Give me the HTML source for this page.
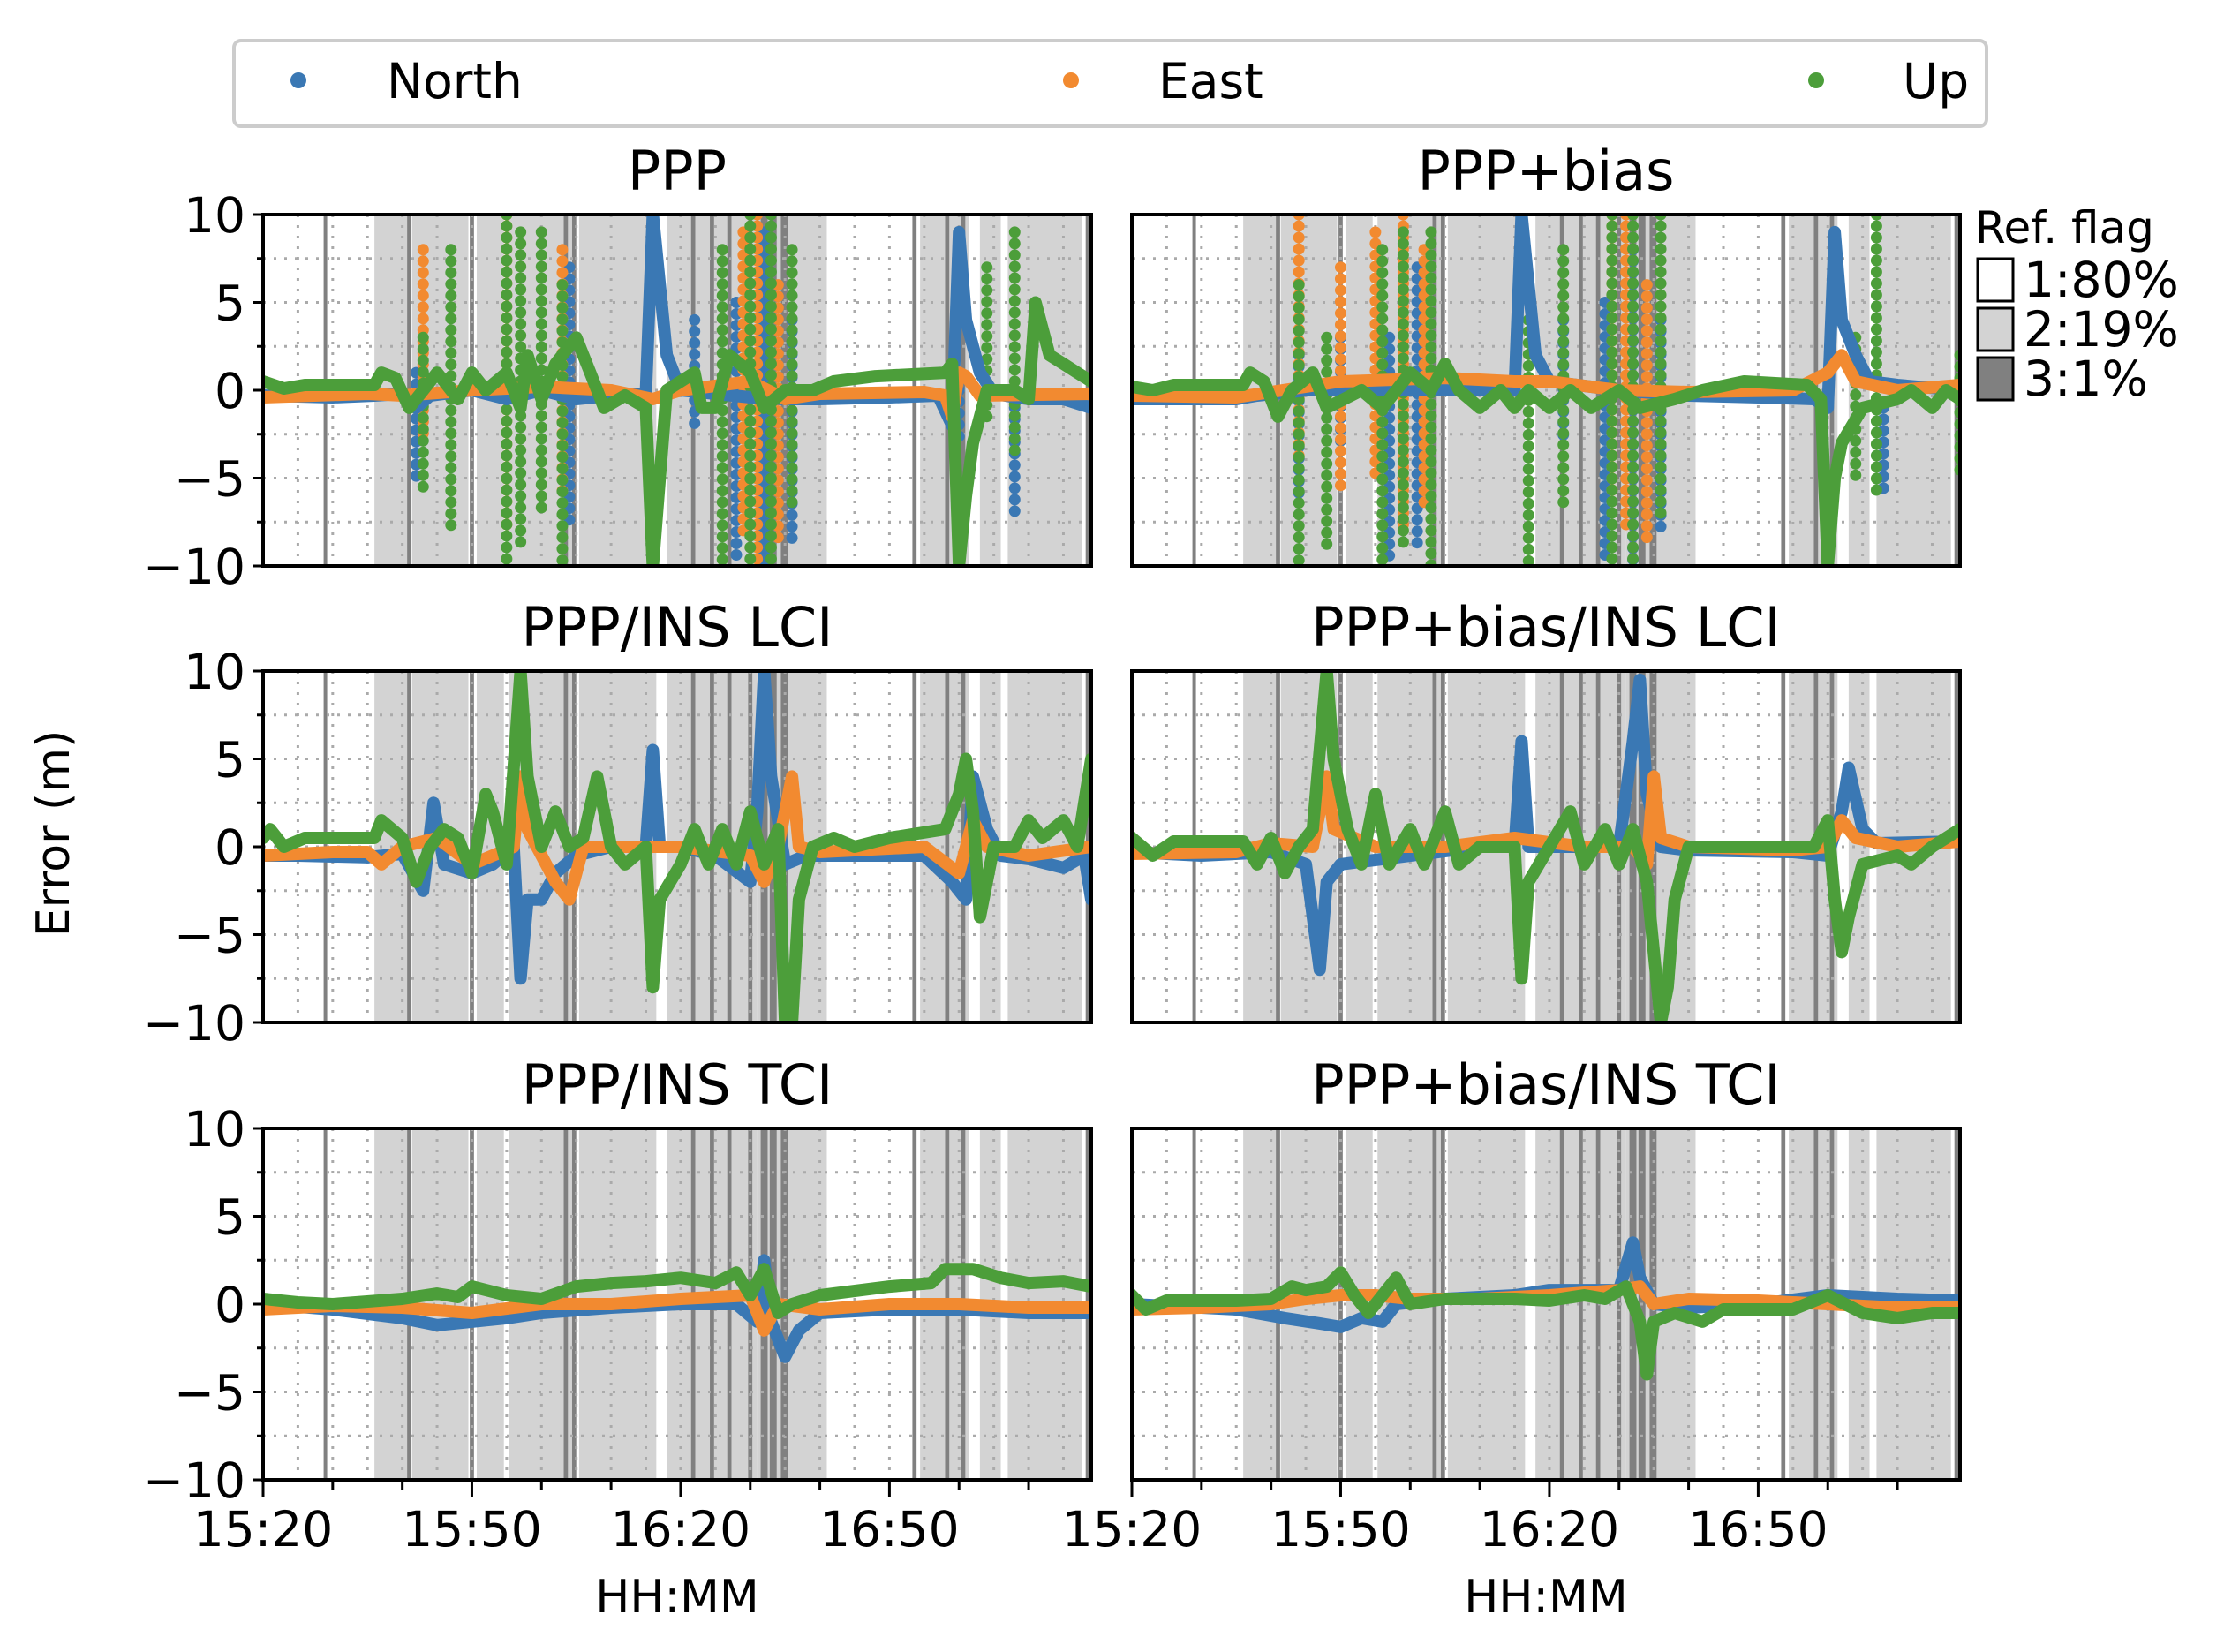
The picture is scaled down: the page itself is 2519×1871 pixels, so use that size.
<!DOCTYPE html>
<html><head><meta charset="utf-8"><style>
html,body{margin:0;padding:0;background:#fff;}
svg{display:block;font-family:"DejaVu Sans","Liberation Sans",sans-serif;}
</style></head><body>
<svg id="fig" width="2519" height="1871" viewBox="0 0 2519 1871" xmlns="http://www.w3.org/2000/svg">
<g>
<rect x="265" y="46" width="1985" height="97" rx="8" fill="#fff" stroke="#cccccc" stroke-width="4"/>
<circle cx="338" cy="91" r="9" fill="#3a78b4"/><text x="438" y="111" font-size="55">North</text>
<circle cx="1213" cy="91" r="9" fill="#f28a30"/><text x="1312" y="111" font-size="55">East</text>
<circle cx="2057" cy="91" r="9" fill="#4c9e3a"/><text x="2155" y="111" font-size="55">Up</text>
</g>
<g>
<text x="2237" y="275" font-size="50">Ref. flag</text>
<rect x="2240" y="293" width="40" height="48" fill="#fff" stroke="#000" stroke-width="3"/><text x="2292" y="336" font-size="55">1:80%</text>
<rect x="2240" y="349" width="40" height="48" fill="#d3d3d3" stroke="#000" stroke-width="3"/><text x="2292" y="392" font-size="55">2:19%</text>
<rect x="2240" y="405" width="40" height="48" fill="#808080" stroke="#000" stroke-width="3"/><text x="2292" y="448" font-size="55">3:1%</text>
</g>
<text x="78" y="944" font-size="52" text-anchor="middle" transform="rotate(-90 78 944)">Error (m)</text>
</svg>
<script>
const TMAX = 119;
const yTicks = [10, 5, 0, -5, -10];
const yTickLabels = ["10", "5", "0", "\u22125", "\u221210"];
const xTickLabels = ["15:20", "15:50", "16:20", "16:50"];
const xTickMinutes = [0, 30, 60, 90];
const titles = ["PPP", "PPP+bias", "PPP/INS LCI", "PPP+bias/INS LCI", "PPP/INS TCI", "PPP+bias/INS TCI"];
const lightBands = [[16,20.8],[21.4,29.5],[30.7,34.6],[35.3,44.7],[45.4,56.5],[58,71],[71,76.5],[76.5,81],[94.4,101.4],[103,106],[107,117.7]];
const darkBands = [[8.7,9.2],[20.7,21.3],[29.7,30.3],[43.2,43.8],[44.4,45],[61.5,62.1],[64.2,64.8],[66.7,67.3],[69.7,70.3],[71.5,72.5],[72.8,73.8],[74.4,75.4],[93.3,93.9],[98,98.6],[100.3,100.9],[118.2,118.8]];

const p0N=[[0,-0.3],[10,-0.4],[16,-0.3],[20,-0.2],[22,-1],[24,-0.3],[30,0],[35,-0.5],[40,0],[45,-0.5],[50,-0.3],[55,-0.2],[56,10],[57,6],[58,2],[60,0],[65,-0.2],[70,-0.4],[75,-0.5],[80,-0.5],[90,-0.4],[97,-0.3],[99,-2],[100,9],[101,4],[103,1],[105,-0.2],[110,-0.5],[115,-0.5],[119,-1]];
const p0E=[[0,-0.4],[15,-0.2],[20,-0.3],[30,0],[40,0.2],[50,0],[56,-0.5],[60,0],[70,0.5],[75,-0.5],[80,-0.2],[95,-0.1],[98,-0.3],[99,-1.5],[100,1],[101,0.8],[103,-0.3],[119,-0.2]];
const p0U=[[0,0.5],[3,0.1],[6,0.3],[16,0.3],[17,1],[19,0.7],[21,-1],[23,0],[25,1],[28,-0.5],[30,1],[32,0],[35,1],[37,-1],[38,2],[40,-0.5],[42,1.5],[45,3],[47,1],[49,-1],[52,-0.3],[55,-1],[56,-10],[57,-5],[58,0],[62,1],[63,-1],[65,-1],[67,2],[70,1],[72,-1],[75,0],[79,0],[82,0.5],[88,0.8],[98,1],[99,1.5],[100,-10],[101,-6],[102,-3],[104,0],[108,0],[110,-0.5],[111,5],[113,2],[115,1.5],[117,1],[119,0.5]];
const p0sN=[[22,-5,1],[44,-8,7],[62,-2,4],[68,-10,5],[72,-10,9],[76,-9,4],[100,-3,0],[108,-7,-1]];
const p0sE=[[23,-3,8],[35,-8,10],[43,-6,8],[69,-8,9],[71,-10,10],[74,-9,6]];
const p0sU=[[23,-6,3],[27,-8,8],[35,-10,10],[37,-9,9],[40,-7,9],[43,-10,6],[66,-10,8],[70,-10,10],[73,-10,10],[76,-7,8],[104,-2,7],[108,-4,9]];

const p1N=[[0,-0.5],[15,-0.5],[18,-0.3],[25,0],[35,0],[45,0],[52,0],[55,0],[56,10],[57,6],[58,2],[60,0.5],[70,0],[80,-0.3],[90,-0.4],[98,-0.5],[100,-1],[101,9],[102,4],[104,2],[106,0.5],[110,0.3],[119,0]];
const p1E=[[0,-0.3],[15,-0.4],[20,-0.1],[30,0.5],[45,0.7],[55,0.5],[60,0.5],[70,0],[80,-0.1],[95,0],[100,1],[102,2],[104,0.5],[110,0],[119,0.3]];
const p1U=[[0,0.2],[3,0],[6,0.3],[16,0.3],[17,1],[19,0.5],[21,-1.5],[23,0],[26,1],[28,-1],[33,0],[36,-1],[40,1],[43,0],[45,1.5],[47,0],[50,-1],[53,0],[55,-1],[57,0],[60,-1],[63,0],[66,-1],[70,0],[73,-1],[78,-0.5],[82,0],[88,0.5],[97,0.3],[99,-0.5],[100,-10],[101,-5],[102,-3],[105,-1],[110,-0.5],[112,0],[115,-1],[117,0],[119,-0.5]];
const p1sN=[[24,-6,2],[30,-3,3],[37,-10,3],[41,-9,7],[62,-3,4],[68,-10,5],[72,-10,8],[76,-8,4],[108,-6,-1]];
const p1sE=[[24,-4,10],[30,-6,7],[35,-5,9],[39,-8,10],[42,-7,8],[69,-6,10],[71,-8,10],[74,-9,6]];
const p1sU=[[24,-10,6],[28,-9,3],[36,-10,8],[39,-9,9],[43,-10,9],[57,-10,4],[62,-7,8],[69,-10,10],[72,-10,10],[76,-7,10],[104,-5,3],[107,-6,10],[119,-5,2]];

const p2N=[[0,-0.5],[5,-0.5],[15,-0.6],[20,-0.4],[23,-2.5],[24.5,2.5],[26,-1],[30,-1.5],[33,-1],[36,0],[37,-7.5],[38,-3],[40,-3],[42,-1.5],[45,-0.5],[50,0],[55,0],[56,5.5],[57,0],[60,0],[65,-0.5],[70,-2],[71,2],[72,10],[73,4],[75,-1],[78,-0.5],[85,-0.5],[95,-0.5],[99,-2],[101,-3],[102,4],[104,1],[106,-0.5],[110,-0.7],[115,-1.2],[118,-0.5],[119,-3]];
const p2E=[[0,-0.5],[10,-0.3],[15,-0.3],[17,-1],[20,0],[25,0.5],[30,-1],[36,0],[37,4],[38,1],[42,-2],[44,-3],[46,0],[55,0],[60,0],[70,-0.5],[72,-2],[74,0],[76,4],[77,0],[80,-0.3],[95,0],[100,-1.5],[102,1.5],[104,0],[110,-0.5],[119,0]];
const p2U=[[0,0.5],[1,1],[3,0],[6,0.5],[16,0.5],[17,1.5],[20,0.5],[22,-2],[24,0],[26,1],[28,0.5],[30,-1.5],[32,3],[33,2],[35,-1],[37,10],[38,4],[40,0],[42,2],[44,0],[46,0.5],[48,4],[50,0],[52,-1],[55,0],[56,-8],[57,-3],[60,-1],[62,1],[64,-1],[66,1],[68,-1],[70,2],[72,-1],[74,1],[75,-10],[76,-10],[77,-3],[79,0],[82,0.5],[85,0],[90,0.5],[98,1],[100,3],[101,5],[102,2],[103,-4],[105,0],[108,0],[110,1.5],[112,0.5],[115,1.5],[117,0],[119,5]];

const p3N=[[0,-0.3],[10,-0.5],[20,-0.3],[25,-1],[27,-7],[28,-2],[30,-1],[40,-0.5],[50,0],[55,0],[56,6],[57,0],[65,0],[70,0],[72,6],[73,9.5],[74,3],[76,0],[80,-0.2],[95,-0.3],[100,-0.5],[102,2],[103,4.5],[105,1],[107,0.2],[119,0.3]];
const p3E=[[0,-0.4],[15,-0.3],[20,0.2],[26,0],[28,4],[29,1],[35,0],[45,0],[55,0.5],[65,0],[72,0],[74,-1],[75,4],[76,0.5],[80,0],[95,-0.2],[100,0],[102,1.5],[104,0.5],[110,0],[119,0.3]];
const p3U=[[0,0.5],[3,-0.5],[6,0.3],[16,0.3],[18,-1],[20,0.5],[22,-1.5],[24,0],[26,1],[28,10],[29,5],[31,1],[33,-1],[35,3],[37,-1],[40,1],[42,-1],[45,2],[47,-1],[50,0],[55,0],[56,-7.5],[57,-2],[60,0],[63,2],[65,-1],[68,1],[70,-1],[72,1],[74,-2],[76,-10],[77,-8],[78,-3],[80,0],[85,0],[90,0],[98,0],[100,1.5],[101,-3],[102,-6],[103,-4],[105,-1],[110,-0.5],[112,-1],[115,0],[119,1]];

const p4N=[[0,0],[10,-0.3],[20,-0.8],[25,-1.2],[30,-1],[35,-0.8],[40,-0.5],[50,-0.2],[60,0],[68,0],[71,-1],[72,2.5],[73,-1],[75,-3],[77,-1.5],[80,-0.5],[90,-0.3],[100,-0.3],[110,-0.5],[119,-0.5]];
const p4E=[[0,-0.3],[10,-0.1],[20,-0.2],[30,-0.5],[40,0],[50,0],[60,0.3],[70,0.5],[72,-1.5],[74,0],[80,-0.3],[90,0],[100,0],[110,-0.2],[119,-0.2]];
const p4U=[[0,0.3],[5,0.1],[10,0],[20,0.3],[25,0.6],[28,0.4],[30,1],[35,0.5],[40,0.3],[45,1],[50,1.2],[55,1.3],[60,1.5],[65,1.2],[68,1.8],[70,0.5],[72,2],[74,-0.5],[76,0],[80,0.5],[90,1],[96,1.2],[98,2],[102,2],[106,1.5],[110,1.2],[115,1.3],[119,1.0]];

const p5N=[[0,0],[10,-0.2],[15,-0.3],[22,-0.8],[27,-1.1],[30,-1.3],[33,-0.8],[36,-1],[38,0],[45,0.3],[55,0.5],[60,0.8],[70,0.8],[72,3.5],[73,1.5],[75,0],[80,-0.2],[90,0],[100,0.5],[110,0.3],[119,0.2]];
const p5E=[[0,-0.3],[10,-0.2],[20,0],[25,0.3],[30,0.5],[35,0.5],[40,0.3],[50,0.3],[60,0.5],[70,0.8],[73,1],[75,0],[80,0.3],[90,0.2],[100,0],[110,-0.2],[119,-0.2]];
const p5U=[[0,0.5],[2,-0.3],[5,0.2],[15,0.2],[20,0.3],[23,1],[25,0.8],[28,1],[30,1.8],[32,0.5],[34,-0.5],[36,0.5],[38,1.5],[40,0],[45,0.3],[55,0.3],[60,0.2],[65,0.5],[68,0.3],[71,1],[73,-1],[74,-4],[75,-1],[78,-0.5],[82,-1],[85,-0.3],[95,-0.3],[100,0.5],[105,-0.5],[110,-0.8],[115,-0.5],[119,-0.5]];

const NS="http://www.w3.org/2000/svg";
const svg=document.getElementById('fig');
const COLORS=["#3a78b4","#f28a30","#4c9e3a"];
const colX=[298,1282], rowY=[243,760,1278], PW=938, PH=398;
const panelLines=[[p0N,p0E,p0U],[p1N,p1E,p1U],[p2N,p2E,p2U],[p3N,p3E,p3U],[p4N,p4E,p4U],[p5N,p5E,p5U]];
const panelSpikes=[[p0sN,p0sE,p0sU],[p1sN,p1sE,p1sU],null,null,null,null];
const names=["ppp","ppp-bias","ppp-ins-lci","ppp-bias-ins-lci","ppp-ins-tci","ppp-bias-ins-tci"];
const sNames=["north","east","up"];
function mk(tag,attrs,parent){const e=document.createElementNS(NS,tag);for(const k in attrs)e.setAttribute(k,attrs[k]);parent.appendChild(e);return e;}

for(let p=0;p<6;p++){
  const x0=colX[p%2], y0=rowY[Math.floor(p/2)];
  const xs=t=>x0+t/TMAX*PW, ys=v=>y0+(10-v)/20*PH;
  const g=mk('g',{},svg);
  
  
  const cid='clip'+p;
  const cp=mk('clipPath',{id:cid},g); mk('rect',{x:x0,y:y0,width:PW,height:PH},cp);
  const inner=mk('g',{'clip-path':'url(#'+cid+')'},g);
  lightBands.forEach(b=>{const r=mk('rect',{x:xs(b[0]),y:y0,width:xs(b[1])-xs(b[0]),height:PH,fill:'#d3d3d3'},inner);
    
    });
  darkBands.forEach(b=>{const r=mk('rect',{x:xs(b[0]),y:y0,width:Math.max(4,xs(b[1])-xs(b[0])),height:PH,fill:'#808080'},inner);
    
    });
  for(let t=5;t<TMAX;t+=5) mk('line',{x1:xs(t),x2:xs(t),y1:y0,y2:y0+PH,stroke:'#aaaaaa','stroke-width':3,'stroke-dasharray':'3 9'},inner);
  for(let v=-7.5;v<10;v+=2.5) mk('line',{x1:x0,x2:x0+PW,y1:ys(v),y2:ys(v),stroke:'#aaaaaa','stroke-width':3,'stroke-dasharray':'3 9'},inner);
  const sp=panelSpikes[p];
  if(sp){ [0,1,2].forEach(s=>sp[s].forEach(d=>{
    const l=mk('line',{x1:xs(d[0]),x2:xs(d[0]),y1:ys(d[2]),y2:ys(d[1]),stroke:COLORS[s],'stroke-width':13,'stroke-linecap':'round','stroke-dasharray':'0 13'},inner);
    
    }));}
  [0,1,2].forEach(s=>{
    const pts=panelLines[p][s].map(d=>xs(d[0]).toFixed(1)+','+ys(d[1]).toFixed(1)).join(' ');
    const pl=mk('polyline',{points:pts,fill:'none',stroke:COLORS[s],'stroke-width':14,'stroke-linejoin':'round','stroke-linecap':'round'},inner);
    
    
  });
  mk('rect',{x:x0,y:y0,width:PW,height:PH,fill:'none',stroke:'#000','stroke-width':4},g);
  const tt=mk('text',{x:x0+PW/2,y:y0-28,'font-size':62,'text-anchor':'middle'},g); tt.textContent=titles[p];
  
  
  if(p%2===0){ yTicks.forEach((v,i)=>{mk('line',{x1:x0-12,x2:x0,y1:ys(v),y2:ys(v),stroke:'#000','stroke-width':3},g);
    const tl=mk('text',{x:x0-20,y:ys(v)+20,'font-size':55,'text-anchor':'end'},g); tl.textContent=yTickLabels[i];
    
    });
    for(let v=-7.5;v<10;v+=5) mk('line',{x1:x0-7,x2:x0,y1:ys(v),y2:ys(v),stroke:'#000','stroke-width':3},g);
  }
  if(p>=4){
    for(let t=0;t<TMAX;t+=10){const major=(t%30===0);mk('line',{x1:xs(t),x2:xs(t),y1:y0+PH,y2:y0+PH+(major?20:12),stroke:'#000','stroke-width':3},g);}
    xTickMinutes.forEach((m,i)=>{const tl=mk('text',{x:xs(m),y:y0+PH+75,'font-size':55,'text-anchor':'middle'},g);tl.textContent=xTickLabels[i];
      
      });
    const xl=mk('text',{x:x0+PW/2,y:y0+PH+150,'font-size':52,'text-anchor':'middle'},g); xl.textContent='HH:MM';
    
    
  }
}
</script>
</body></html>
